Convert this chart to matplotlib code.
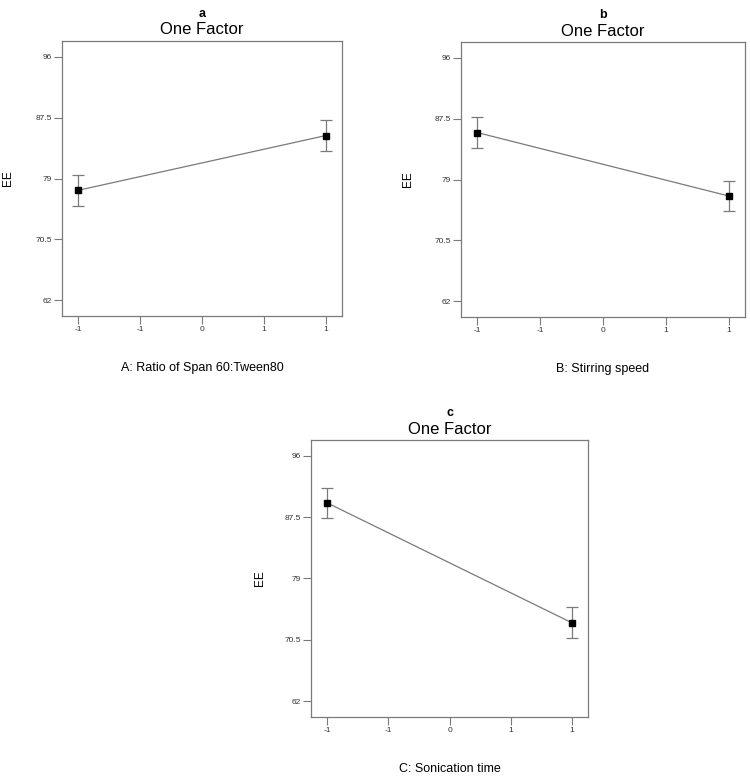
import numpy as np
import matplotlib
matplotlib.use('Agg')
import matplotlib.pyplot as plt

plt.rcParams['font.family'] = ['Liberation Sans', 'DejaVu Sans']

# coded factor levels and EE means / error half-widths
levels = [-1, 1]
ee_a = [77.35, 85.0]
err_a = [2.2, 2.15]
ee_b = [85.55, 76.7]
err_b = [2.15, 2.15]
ee_c = [89.5, 72.85]
err_c = [2.1, 2.15]

panel_letters = ['a', 'b', 'c']
factor_names = ['A: Ratio of Span 60:Tween80', 'B: Stirring speed', 'C: Sonication time']
y_ticks = [62, 70.5, 79, 87.5, 96]
y_tick_labels = ['62', '70.5', '79', '87.5', '96']
x_ticks = [-1, -0.5, 0, 0.5, 1]
x_tick_labels = ['-1', '-1', '0', '1', '1']

W, H = 750, 779
fig = plt.figure(figsize=(W / 100, H / 100), dpi=100)

# axes boxes in pixels: left, top, right, bottom
boxes = [(62, 41, 342, 316), (461, 42, 745, 317), (311, 440, 588, 717)]
ylabel_x = [8, 408, 260]
data = [(ee_a, err_a), (ee_b, err_b), (ee_c, err_c)]

grey = '#7a7a7a'
for i, (l, t, r, b) in enumerate(boxes):
    ax = fig.add_axes([l / W, 1 - b / H, (r - l) / W, (b - t) / H])
    ee, err = data[i]
    ax.errorbar(levels, ee, yerr=err, color=grey, lw=0.9, capsize=4, capthick=0.9,
                elinewidth=0.9, marker='s', markersize=4, mfc='black', mec='black', zorder=3)
    ax.set_xlim(-1.13, 1.13)
    ax.set_ylim(59.8, 98.2)
    ax.set_xticks(x_ticks)
    ax.set_xticklabels(x_tick_labels)
    ax.set_yticks(y_ticks)
    ax.set_yticklabels(y_tick_labels)
    ax.tick_params(direction='out', length=5.5, width=0.8, color=grey, labelsize=6,
                   labelcolor='#333333', pad=2)
    for s in ax.spines.values():
        s.set_color(grey)
        s.set_linewidth(0.9)
    cx = (l + r) / 2 / W
    fig.text(cx, 1 - (t - 27) / H, panel_letters[i], ha='center', va='center',
             fontsize=9, fontweight='bold')
    fig.text(cx, 1 - (t - 11) / H, 'One Factor', ha='center', va='center', fontsize=12)
    fig.text(ylabel_x[i] / W, 1 - (t + b) / 2 / H, 'EE', rotation=90, ha='center',
             va='center', fontsize=8.5)
    fig.text(cx, 1 - (b + 52) / H, factor_names[i], ha='center', va='center', fontsize=9)

fig.savefig('out.png', dpi=100, facecolor='white')
